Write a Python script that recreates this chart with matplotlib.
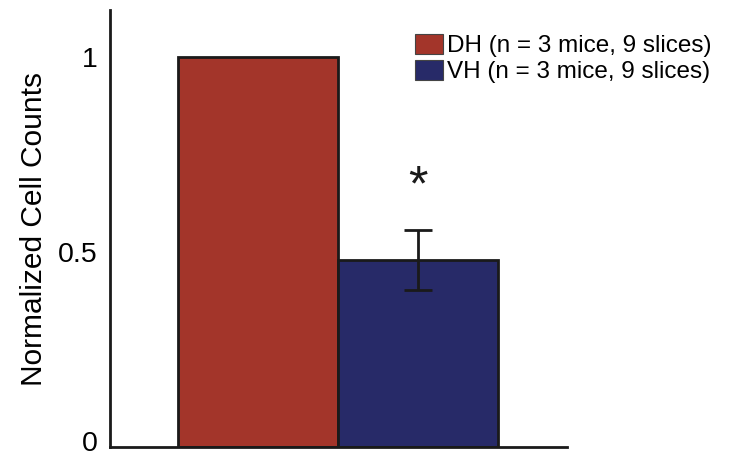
import matplotlib
matplotlib.use("Agg")

import matplotlib.pyplot as plt
import matplotlib.patches as patches
import matplotlib.transforms as mtransforms

# Data
groups = ["DH", "VH"]
labels = ["DH (n = 3 mice, 9 slices)", "VH (n = 3 mice, 9 slices)"]
values = [1.0, 0.48]
errors = [0.0, 0.077]
colors = ["#a3352a", "#272a68"]

plt.rcParams["font.family"] = ["Liberation Sans", "DejaVu Sans"]

fig = plt.figure(figsize=(7.53, 4.57), dpi=100)
ax = fig.add_axes([0.146, 0.022, 0.607, 0.956])

x = list(range(len(groups)))
ax.bar(x, values, width=1.0, color=colors, edgecolor="#1a1a1a", linewidth=2, zorder=2)

# error bar only on VH
ax.errorbar(x[1], values[1], yerr=errors[1], fmt="none", ecolor="#1a1a1a",
            elinewidth=2, capsize=10, capthick=2, zorder=3)
ax.text(x[1], 0.665, "*", ha="center", va="center", fontsize=36, color="#1a1a1a")

ax.set_xlim(-0.925, 1.93)
ax.set_ylim(0, 1.12)
ax.set_yticks([0, 0.5, 1])
ax.set_yticklabels(["0", "0.5", "1"])
ax.set_xticks([])
ax.tick_params(axis="y", length=0, pad=9, labelsize=20.5)
ax.set_ylabel("Normalized Cell Counts", fontsize=21.5, labelpad=7)

# nudge the "0" label up a little so it stays inside the canvas
zero_lbl = ax.get_yticklabels()[0]
zero_lbl.set_transform(zero_lbl.get_transform() +
                       mtransforms.ScaledTranslation(0, 4 / 72, fig.dpi_scale_trans))

for s in ["top", "right"]:
    ax.spines[s].set_visible(False)
for s in ["left", "bottom"]:
    ax.spines[s].set_linewidth(2)
    ax.spines[s].set_color("#1a1a1a")

handles = [patches.Patch(facecolor=c, edgecolor="#444444", linewidth=0.8) for c in colors]
fig.legend(handles, labels, loc="upper left", bbox_to_anchor=(0.551, 0.925),
           frameon=False, fontsize=17.5, handlelength=1.15, handleheight=0.85,
           handletextpad=0.15, labelspacing=0.12, borderpad=0, borderaxespad=0)

fig.savefig("out.png", dpi=100)
